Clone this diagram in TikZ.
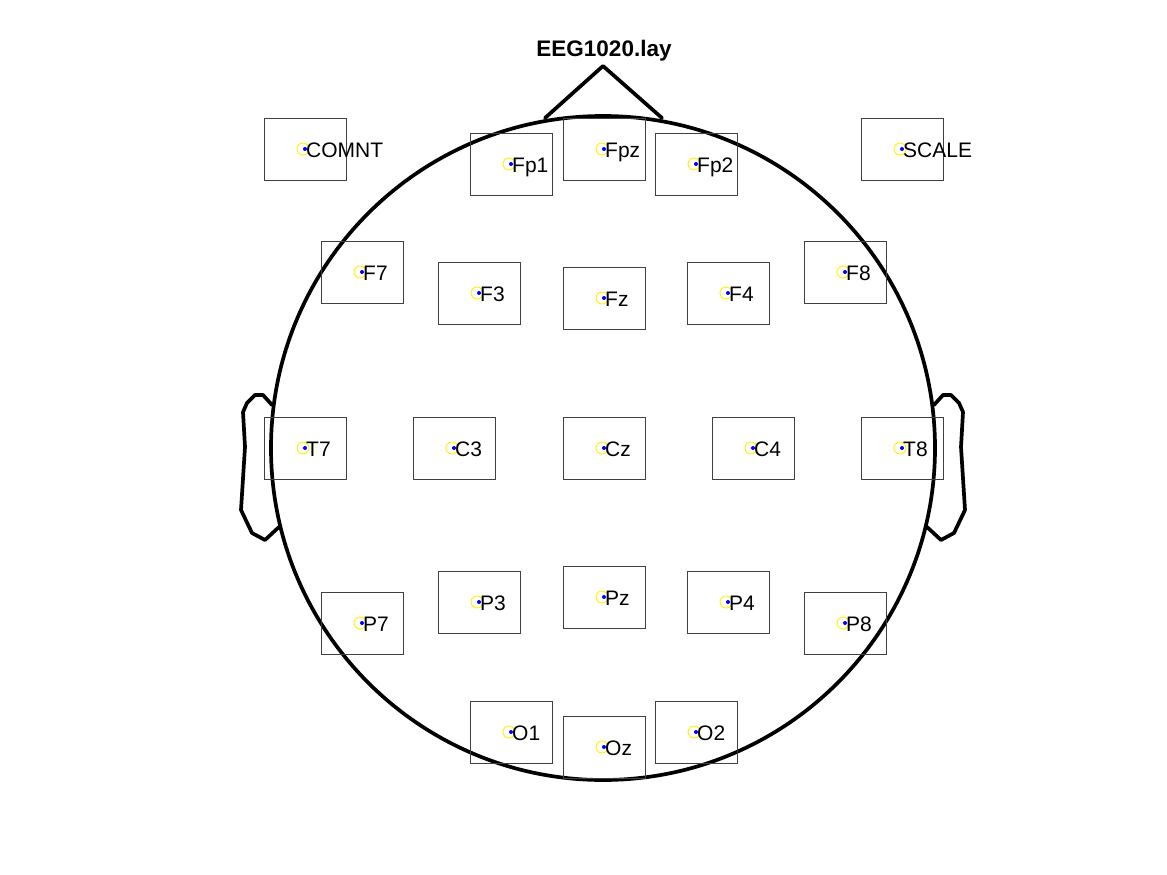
\documentclass[tikz,border=0pt]{standalone}
\usepackage{fontspec}
\setmainfont{Liberation Sans}
\usetikzlibrary{positioning}

\begin{document}
\begin{tikzpicture}[x=1pt,y=-1pt]
\tikzset{
    sbox/.style={rectangle, draw=black!75, line width=0.9pt, minimum width=82pt, minimum height=62pt, inner sep=0pt, outer sep=0pt,
        path picture={
            \draw[yellow, line width=0.9pt] ([xshift=-2pt]path picture bounding box.center) circle (6pt);
            \fill[blue] (path picture bounding box.center) circle (2pt);
        }},
    lbl/.style={anchor=base west, inner sep=0pt, font=\fontsize{21}{24}\selectfont},
    headline/.style={line width=3.7pt, line join=round, line cap=round}
}
\useasboundingbox (0,0) rectangle (1167,875);

% --- title ---
\node[font=\bfseries\fontsize{22.5}{26}\selectfont] (title) at (604,51) {EEG1020.lay};

% --- head outline ---
\node[circle, draw, headline, minimum size=664pt, inner sep=0pt] (head) at (603,448) {};
\coordinate (noseL) at (545,118);
\coordinate (noseT) at (603,66);
\coordinate (noseR) at (662,118);
\draw[headline] (noseL) -- (noseT) -- (noseR);
\draw[headline] (272,405) -- (263,395) -- (255,395) -- (247,403) -- (243,412) -- (245,447)
    -- (241,510) -- (252,533) -- (265,540) -- (279,527);
\draw[headline] (934,405) -- (943,395) -- (951,395) -- (959,403) -- (963,412) -- (961,447)
    -- (965,510) -- (954,533) -- (941,540) -- (927,527);

% --- boxes ---
\node[sbox] (COMNT) at (305,149) {};
\node[sbox] (Fp1) at (511,164) {};
\node[sbox] (Fpz) at (604,149) {};
\node[sbox] (Fp2) at (696,164) {};
\node[sbox] (SCALE) at (902,149) {};

\node[sbox] (F7) at (362,272) {};
\node[sbox] (F3) at (479,293) {};
\node[sbox] (Fz) at (604,298) {};
\node[sbox] (F4) at (728,293) {};
\node[sbox] (F8) at (845,272) {};

\node[sbox] (T7) at (305,448) {};
\node[sbox] (C3) at (454,448) {};
\node[sbox] (Cz) at (604,448) {};
\node[sbox] (C4) at (753,448) {};
\node[sbox] (T8) at (902,448) {};

\node[sbox] (P7) at (362,623) {};
\node[sbox] (P3) at (479,602) {};
\node[sbox] (Pz) at (604,597) {};
\node[sbox] (P4) at (728,602) {};
\node[sbox] (P8) at (845,623) {};

\node[sbox] (O1) at (511,732) {};
\node[sbox] (Oz) at (604,747) {};
\node[sbox] (O2) at (696,732) {};

% --- labels ---
\node[lbl] (COMNT-l) at ([shift={(1,8)}]COMNT.center) {COMNT};
\node[lbl] (Fp1-l) at ([shift={(1,8)}]Fp1.center) {Fp1};
\node[lbl] (Fpz-l) at ([shift={(1,8)}]Fpz.center) {Fpz};
\node[lbl] (Fp2-l) at ([shift={(1,8)}]Fp2.center) {Fp2};
\node[lbl] (SCALE-l) at ([shift={(1,8)}]SCALE.center) {SCALE};

\node[lbl] (F7-l) at ([shift={(1,8)}]F7.center) {F7};
\node[lbl] (F3-l) at ([shift={(1,8)}]F3.center) {F3};
\node[lbl] (Fz-l) at ([shift={(1,8)}]Fz.center) {Fz};
\node[lbl] (F4-l) at ([shift={(1,8)}]F4.center) {F4};
\node[lbl] (F8-l) at ([shift={(1,8)}]F8.center) {F8};

\node[lbl] (T7-l) at ([shift={(1,8)}]T7.center) {T7};
\node[lbl] (C3-l) at ([shift={(1,8)}]C3.center) {C3};
\node[lbl] (Cz-l) at ([shift={(1,8)}]Cz.center) {Cz};
\node[lbl] (C4-l) at ([shift={(1,8)}]C4.center) {C4};
\node[lbl] (T8-l) at ([shift={(1,8)}]T8.center) {T8};

\node[lbl] (P7-l) at ([shift={(1,8)}]P7.center) {P7};
\node[lbl] (P3-l) at ([shift={(1,8)}]P3.center) {P3};
\node[lbl] (Pz-l) at ([shift={(1,8)}]Pz.center) {Pz};
\node[lbl] (P4-l) at ([shift={(1,8)}]P4.center) {P4};
\node[lbl] (P8-l) at ([shift={(1,8)}]P8.center) {P8};

\node[lbl] (O1-l) at ([shift={(1,8)}]O1.center) {O1};
\node[lbl] (Oz-l) at ([shift={(1,8)}]Oz.center) {Oz};
\node[lbl] (O2-l) at ([shift={(1,8)}]O2.center) {O2};
\end{tikzpicture}
\end{document}
